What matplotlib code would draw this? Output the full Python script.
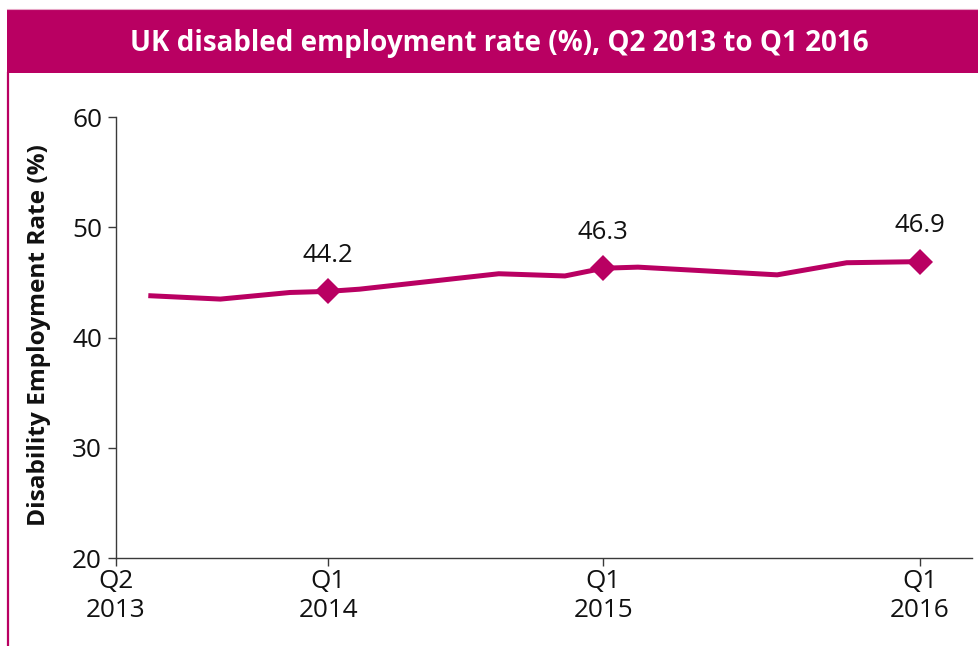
import matplotlib
matplotlib.use("Agg")
import matplotlib.pyplot as plt
from matplotlib.patches import Rectangle
from matplotlib.lines import Line2D

# Quarterly disability employment rate (%), plotted along a time axis
period_pos = [0.5, 1.5, 2.5, 3.05, 3.5, 5.5, 6.45, 7.0, 7.5, 9.5, 10.5, 11.55]
rate = [43.8, 43.5, 44.1, 44.2, 44.4, 45.8, 45.6, 46.3, 46.4, 45.7, 46.8, 46.9]

# Highlighted Q1 readings (marker + value label)
highlight_pos = [3.05, 7.0, 11.55]
highlight_val = [44.2, 46.3, 46.9]

tick_pos = [0, 3.05, 7.0, 11.55]
tick_labels = ["Q2\n2013", "Q1\n2014", "Q1\n2015", "Q1\n2016"]
y_ticks = [20, 30, 40, 50, 60]

title = "UK disabled employment rate (%), Q2 2013 to Q1 2016"
y_label = "Disability Employment Rate (%)"

MAGENTA = "#B90062"
AXIS_GREY = "#3a3a3a"
TEXT = "#111111"

plt.rcParams["font.family"] = ["Open Sans", "DejaVu Sans"]

W, H = 979, 646
fig = plt.figure(figsize=(W / 100, H / 100), dpi=100)
fig.patch.set_facecolor("white")

# Title banner
fig.patches.append(Rectangle((7 / W, 1 - 73 / H), 1 - 7 / W, 64 / H,
                             transform=fig.transFigure, facecolor=MAGENTA,
                             edgecolor="none", zorder=0))
fig.lines.append(Line2D([7 / W, 1], [1 - 9 / H, 1 - 9 / H],
                        transform=fig.transFigure, color="#e7a6c6", lw=0.8))
fig.lines.append(Line2D([8 / W, 8 / W], [0, 1 - 73 / H],
                        transform=fig.transFigure, color=MAGENTA, lw=1.6))
fig.text(499 / W, 1 - 43 / H, title, color="white", fontsize=20,
         fontweight="bold", ha="center", va="center")

# Y-axis title
fig.text(39 / W, 1 - 335 / H, y_label, rotation=90, fontsize=17.6,
         fontweight="bold", color=TEXT, ha="center", va="center")

ax = fig.add_axes([116 / W, 1 - 558 / H, (972 - 116) / W, (558 - 117.3) / H])
ax.plot(period_pos, rate, color=MAGENTA, lw=3.6, solid_joinstyle="miter",
        zorder=3)
ax.plot(highlight_pos, highlight_val, linestyle="none", marker="D",
        markersize=13.5, color=MAGENTA, markeredgewidth=0, zorder=4)
for xp, v in zip(highlight_pos, highlight_val):
    ax.annotate(f"{v:.1f}", (xp, v), xytext=(0, 26), textcoords="offset points",
                ha="center", va="center", fontsize=18.5, color=TEXT)

ax.set_xlim(0, 12.3)
ax.set_ylim(20, 60)
ax.set_yticks(y_ticks)
ax.set_xticks(tick_pos)
ax.set_xticklabels(tick_labels, linespacing=1.2)
ax.tick_params(axis="both", direction="out", length=6, width=1,
               color=AXIS_GREY, labelsize=18.8, labelcolor=TEXT)
ax.tick_params(axis="y", pad=4)
ax.tick_params(axis="x", pad=2)
for side in ("top", "right"):
    ax.spines[side].set_visible(False)
for side in ("left", "bottom"):
    ax.spines[side].set_color(AXIS_GREY)
    ax.spines[side].set_linewidth(1)

fig.savefig("out.png", dpi=100, facecolor="white")
